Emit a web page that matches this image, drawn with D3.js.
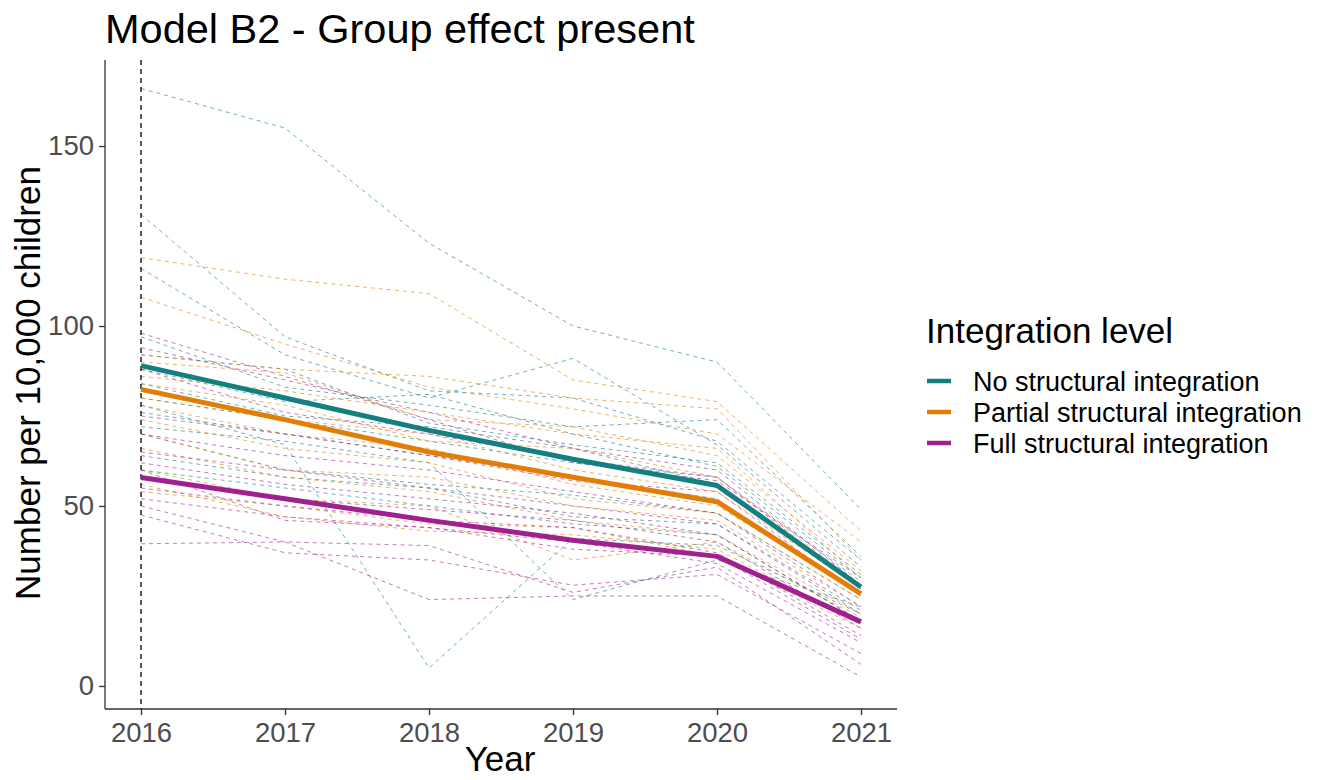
<!DOCTYPE html>
<html>
<head>
<meta charset="utf-8">
<script src="https://cdn.jsdelivr.net/npm/d3@7"></script>
<style>
  html, body { margin: 0; padding: 0; background: #ffffff; }
  svg { display: block; font-family: "Liberation Sans", Arial, sans-serif; }
</style>
</head>
<body>
<svg id="chart" width="1320" height="780"></svg>
<script>
// ---------- data ----------
const years = [2016, 2017, 2018, 2019, 2020, 2021];
const groups = ["No structural integration", "Partial structural integration", "Full structural integration"];
const groupColors = ["#137f7f", "#e47d06", "#a0208f"];
const yTicks = [0, 50, 100, 150];

// group-level fitted trajectories
const fitNo      = [89.0, 80.0, 71.0, 63.0, 55.7, 27.5];
const fitPartial = [82.4, 74.0, 65.0, 58.0, 51.2, 25.6];
const fitFull    = [57.9, 52.0, 46.0, 40.5, 36.0, 17.8];

// individual unit trajectories (dashed)
const unitsNo = [
  [166, 155, 123, 100, 90, 49],
  [131, 97, 82, 80, 68, 35],
  [116, 92, 80, 91, 67, 33],
  [78, 67, 5, 41, 39, 20],
  [97, 83, 78, 72, 74, 36],
  [88, 79, 81, 70, 61, 30],
  [84, 75, 72, 66, 56, 28],
  [80, 74, 68, 62, 58, 29],
  [76, 70, 64, 58, 52, 25],
  [72, 68, 62, 24, 35, 22],
  [70, 60, 56, 53, 48, 24],
  [64, 58, 55, 47, 45, 21],
  [92, 88, 73, 67, 62, 31],
  [60, 55, 50, 45, 42, 18]
];
const unitsPartial = [
  [119, 113, 109, 85, 79, 43],
  [108, 95, 83, 77, 70, 40],
  [92, 88, 86, 80, 77, 35],
  [90, 87, 74, 72, 64, 32],
  [86, 82, 76, 70, 66, 30],
  [84, 78, 68, 66, 58, 28],
  [80, 74, 70, 60, 54, 27],
  [78, 70, 66, 56, 50, 26],
  [74, 66, 62, 52, 48, 24],
  [70, 60, 58, 50, 46, 22],
  [66, 58, 54, 46, 42, 20],
  [60, 52, 50, 35, 40, 19],
  [56, 47, 43, 42, 38, 17],
  [54, 50, 45, 44, 36, 16]
];
const unitsFull = [
  [98, 86, 74, 62, 57, 30],
  [94, 85, 76, 66, 60, 28],
  [88, 76, 70, 63, 58, 27],
  [75, 70, 64, 57, 54, 25],
  [70, 64, 60, 54, 48, 22],
  [65, 60, 55, 50, 45, 20],
  [62, 56, 52, 48, 42, 18],
  [58, 52, 49, 46, 40, 16],
  [55, 50, 46, 44, 37, 14],
  [52, 47, 44, 40, 34, 12],
  [47.5, 37, 35, 28, 31, 9],
  [39.5, 40, 24, 25, 25, 2.5],
  [50, 40, 39, 26, 33, 6],
  [60, 46, 44, 38, 36, 13]
];

// ---------- layout ----------
const svg = d3.select("#chart");
const x = d3.scaleLinear().domain([2015.75, 2021.25]).range([105, 897]);
const y = d3.scaleLinear().domain([-6.4, 173.9]).range([709, 60]);

const line = d3.line().x((d, i) => x(years[i])).y(d => y(d));

// dashed individual lines
const unitSets = [unitsNo, unitsPartial, unitsFull];
unitSets.forEach((set, gi) => {
  svg.append("g").selectAll("path").data(set).join("path")
    .attr("d", line)
    .attr("fill", "none")
    .attr("stroke", groupColors[gi])
    .attr("stroke-opacity", 0.6)
    .attr("stroke-width", 1)
    .attr("stroke-dasharray", "4,4");
});

// vertical dashed reference at 2016
svg.append("line")
  .attr("x1", x(2016)).attr("x2", x(2016))
  .attr("y1", 60).attr("y2", 709)
  .attr("stroke", "#000").attr("stroke-width", 1.3)
  .attr("stroke-dasharray", "5,4");

// fitted lines
const fits = [fitNo, fitPartial, fitFull];
svg.append("g").selectAll("path").data(fits).join("path")
  .attr("d", line)
  .attr("fill", "none")
  .attr("stroke", (d, i) => groupColors[i])
  .attr("stroke-width", 5)
  .attr("stroke-linejoin", "round");

// axes
const xAxis = d3.axisBottom(x).tickValues(years).tickFormat(d3.format("d")).tickSize(6).tickPadding(6);
const gx = svg.append("g").attr("transform", "translate(0,709)").call(xAxis);
gx.select(".domain").attr("stroke", "#333").attr("stroke-width", 1.3).attr("d", "M105,0H897");
gx.selectAll(".tick line").attr("stroke", "#333").attr("stroke-width", 1.3);
gx.selectAll(".tick text").attr("fill", "#4d4d4d").attr("font-size", 27.5)
  .attr("font-family", "Liberation Sans, Arial, sans-serif").attr("dy", "0.75em");

const yAxis = d3.axisLeft(y).tickValues(yTicks).tickSize(6).tickPadding(5);
const gy = svg.append("g").attr("transform", "translate(105,0)").call(yAxis);
gy.select(".domain").attr("stroke", "#333").attr("stroke-width", 1.3).attr("d", "M0,60V709");
gy.selectAll(".tick line").attr("stroke", "#333").attr("stroke-width", 1.3);
gy.selectAll(".tick text").attr("fill", "#4d4d4d").attr("font-size", 27.5)
  .attr("font-family", "Liberation Sans, Arial, sans-serif");

// titles
svg.append("text").attr("x", 105).attr("y", 43)
  .attr("font-size", 41.5).attr("fill", "#000")
  .text("Model B2 - Group effect present");

svg.append("text").attr("x", 500).attr("y", 771)
  .attr("text-anchor", "middle").attr("font-size", 35).attr("fill", "#000")
  .text("Year");

svg.append("text")
  .attr("transform", "translate(40,383) rotate(-90)")
  .attr("text-anchor", "middle").attr("font-size", 35).attr("fill", "#000")
  .text("Number per 10,000 children");

// legend
const lg = svg.append("g");
lg.append("text").attr("x", 926).attr("y", 343)
  .attr("font-size", 35).attr("fill", "#000").text("Integration level");
const items = lg.selectAll("g.item").data(groups).join("g").attr("class", "item")
  .attr("transform", (d, i) => `translate(0,${381 + i * 31})`);
items.append("line").attr("x1", 927).attr("x2", 951).attr("y1", 0).attr("y2", 0)
  .attr("stroke", (d, i) => groupColors[i]).attr("stroke-width", 4.5);
items.append("text").attr("x", 973).attr("y", 9.5)
  .attr("font-size", 27).attr("fill", "#000").text(d => d);
</script>
</body>
</html>
